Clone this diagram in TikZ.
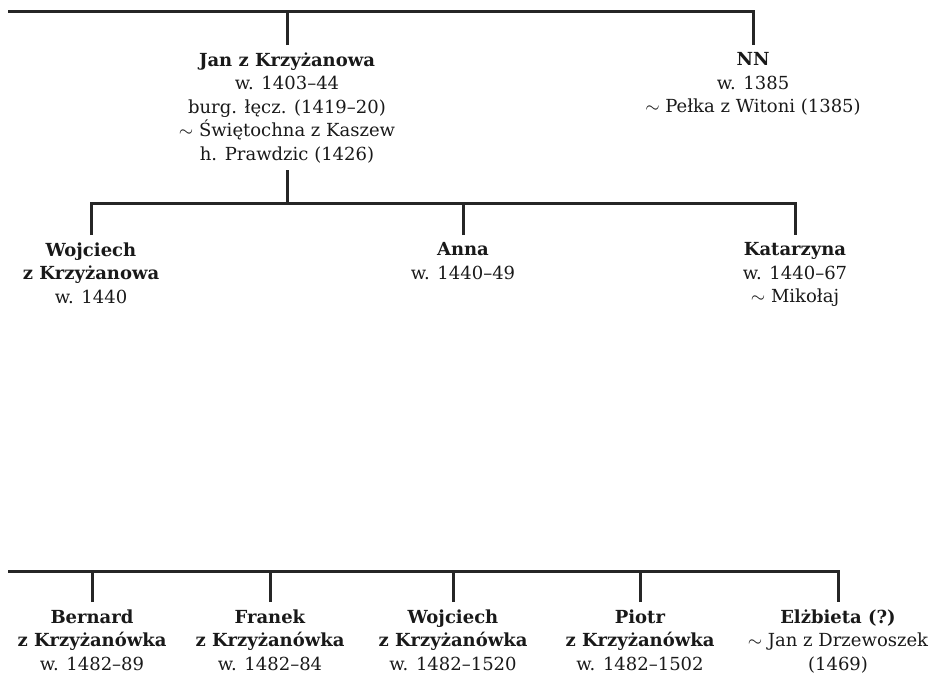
\documentclass[tikz,border=0pt]{standalone}
\usepackage{fontspec}
\setmainfont{DejaVu Serif}
\usepackage{tikz}

\begin{document}
\begin{tikzpicture}[x=0.5pt,y=-0.5pt,
    person/.style={align=center, anchor=north, inner xsep=1.5pt, inner ysep=3.5pt,
      text=black!90, font=\fontsize{9}{11.75}\selectfont},
    line/.style={draw=black!85, line width=1.5pt}]
    % Fix the size of the picture
    \useasboundingbox (0,0) rectangle (929,676);

    % Define the bars
    \coordinate (top) at (8,11);
    \coordinate (mid) at (463,203);
    \coordinate (low) at (8,571);

    % First generation
    \node[person] (jan) at (287,45) {\textbf{Jan z Krzyżanowa}\\ w. 1403--44\\ burg. łęcz. (1419--20)\\ $\sim$ Świętochna z Kaszew\\ h. Prawdzic (1426)};
    \node[person] (nn) at (753,45) {\textbf{NN}\\ w. 1385\\ $\sim$ Pełka z Witoni (1385)};

    % Second generation
    \node[person] (wojciech) at (91,235) {\textbf{Wojciech}\\ \textbf{z Krzyżanowa}\\ w. 1440};
    \node[person] (anna) at (463,235) {\textbf{Anna}\\ w. 1440--49};
    \node[person] (katarzyna) at (795,235) {\textbf{Katarzyna}\\ w. 1440--67\\ $\sim$ Mikołaj};

    % Third generation
    \node[person] (bernard) at (92,602) {\textbf{Bernard}\\ \textbf{z Krzyżanówka}\\ w. 1482--89};
    \node[person] (franek) at (270,602) {\textbf{Franek}\\ \textbf{z Krzyżanówka}\\ w. 1482--84};
    \node[person] (wojciech2) at (453,602) {\textbf{Wojciech}\\ \textbf{z Krzyżanówka}\\ w. 1482--1520};
    \node[person] (piotr) at (640,602) {\textbf{Piotr}\\ \textbf{z Krzyżanówka}\\ w. 1482--1502};
    \node[person] (elzbieta) at (838,602) {\textbf{Elżbieta (?)}\\ $\sim$ Jan z Drzewoszek\\ (1469)};

    % Draw the top bar
    \draw[line] (top) -| (nn.north);
    \draw[line] (jan.north) -- (jan.north |- top);

    % Draw the middle bar
    \draw[line] (jan.south) -- (jan.south |- mid);
    \draw[line] (wojciech.north) |- (mid) -| (katarzyna.north);
    \draw[line] (anna.north) -- (mid);

    % Draw the lower bar
    \draw[line] (low) -| (elzbieta.north);
    \foreach \kid in {bernard,franek,wojciech2,piotr}
      \draw[line] (\kid.north) -- (\kid.north |- low);
\end{tikzpicture}
\end{document}
